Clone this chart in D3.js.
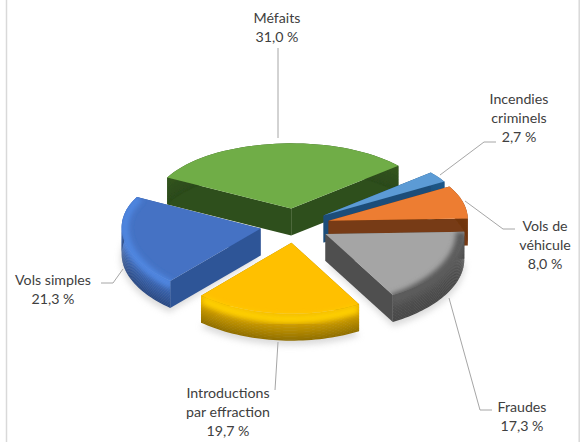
<!DOCTYPE html>
<html><head><meta charset="utf-8">
<script src="https://cdn.jsdelivr.net/npm/d3@7/dist/d3.min.js"></script>
<style>html,body{margin:0;background:#fff}svg{display:block}text{font-family:Lato,"Open Sans",sans-serif;font-size:14.2px;fill:#404040}</style>
</head><body><svg id="c" width="580" height="442"></svg>
<script>
const categories=["Méfaits","Incendies criminels","Vols de véhicule","Fraudes","Introductions par effraction","Vols simples"];
const values=[31.0,2.7,8.0,17.3,19.7,21.3];
const valueLabels=["31,0 %","2,7 %","8,0 %","17,3 %","19,7 %","21,3 %"];
const labelLines=[["Méfaits"],["Incendies","criminels"],["Vols de","véhicule"],["Fraudes"],["Introductions","par effraction"],["Vols simples"]];
const topColors=["#70ad47","#5b9bd5","#ed7d31","#a5a5a5","#ffc000","#4472c4"];
const rimColors=["#70ad47","#5b9bd5","#ed7d31","#5c5c5c","#ffd000","#4f86e0"];
const wallStops=[["#33561f","#2c4a1a"],["#1f5a8c","#1f4e79"],["#7c3c12","#6e3512"],["#555555","#484848"],["#f2b800","#8c6c00"],["#4474c8","#2a4880"]];
const cutColors=["#2f4f1c","#1f4e79","#773a12","#4f4f4f","#a07c00","#2f5597"];
const drawOrder=[0,1,2,5,3,4];

const cx=295,cy=225.5,R=139,squash=0.49,squashGrow=0.0001,explode=35,depth=27,persp=-0.0001,startDeg=-62;
const svg=d3.select("#c");
const defs=svg.append("defs");
const addBlur=(id,sd)=>defs.append("filter").attr("id",id).attr("x","-25%").attr("y","-25%").attr("width","150%").attr("height","150%").append("feGaussianBlur").attr("stdDeviation",sd);
addBlur("soft",0.7);addBlur("sh",3);addBlur("bev",2.4);

const pie=d3.pie().sort(null).value(d=>d).startAngle(startDeg*Math.PI/180).endAngle((startDeg+360)*Math.PI/180);
const arcs=pie(values);
const line=d3.line();
function project(px,py,z){const k=1+persp*py;return [cx+px*k,cy+py*(squash+squashGrow*py)+z];}
function geom(a){
  const mid=(a.startAngle+a.endAngle)/2;
  const ox=explode*Math.sin(mid),oy=-explode*Math.cos(mid);
  const P=(r,t,z)=>project(ox+r*Math.sin(t),oy-r*Math.cos(t),z);
  const ts=d3.range(0,41).map(i=>a.startAngle+(a.endAngle-a.startAngle)*i/40);
  return {P,ts,a};
}
svg.append("path").attr("d",line([[6.5,0],[6.5,442]])).attr("stroke","#d9d9d9").attr("stroke-width",1.5).attr("fill","none");
svg.append("path").attr("d",line([[579.2,0],[579.2,442]])).attr("stroke","#d9d9d9").attr("stroke-width",1.5).attr("fill","none");
const shadow=svg.append("g").attr("filter","url(#sh)").attr("fill","#bdbdbd").attr("opacity",0.55);
arcs.forEach((a,i)=>{
  if(i<3)return;
  const {P,ts}=geom(a);
  shadow.append("path").attr("d",line([P(0,0,depth+2),...ts.map(t=>P(R+1,t,depth+4))])+"Z");
});
const g=svg.append("g").attr("filter","url(#soft)");
drawOrder.forEach(i=>{
  const {P,ts,a}=geom(arcs[i]);
  const sl=g.append("g");
  [a.startAngle,a.endAngle].forEach(t=>{
    sl.append("path").attr("d",line([P(0,t,0),P(R,t,0),P(R,t,depth),P(0,t,depth)])+"Z").attr("fill",cutColors[i]);
  });
  const shade=d3.interpolateRgb(wallStops[i][0],wallStops[i][1]);
  d3.range(0,depth,1.5).forEach(z=>{
    const u=ts.map(t=>P(R,t,z)),v=ts.map(t=>P(R,t,Math.min(z+2,depth))).reverse();
    sl.append("path").attr("d",line([...u,...v])+"Z").attr("fill",shade(z/depth));
  });
  const top=ts.map(t=>P(R,t,0));
  const face=line([P(0,0,0),...top])+"Z";
  sl.append("path").attr("d",face).attr("fill",topColors[i]);
  const frontAngles=ts.filter(t=>-Math.cos(t)>-0.5&&t>Math.PI*0.5-0.2);
  if(i>=3&&frontAngles.length>1){
    const cid="cl"+i;
    const cp=defs.append("clipPath").attr("id",cid);
    cp.append("path").attr("d",face);
    cp.append("path").attr("d",line([...top,...ts.map(t=>P(R,t,depth)).reverse()])+"Z");
    sl.append("g").attr("clip-path",`url(#${cid})`).append("path")
      .attr("d",line(frontAngles.map(t=>P(R-3,t,Math.max(0,-Math.cos(t))*7))))
      .attr("fill","none").attr("stroke",rimColors[i]).attr("stroke-width",i===3?11:8).attr("filter","url(#bev)");
  }
});
const leaders=[[[278,48],[278,138]],[[496,142],[484,142],[440,175]],[[465,201],[503,229],[515,229]],[[449,298],[480,410],[492,410]],[[278,342],[275,390]],[[101,283],[113,283],[123,269]]];
const labelPos=[[277,23],[519,104],[545,231],[522,412],[228,398],[53,285]];
const lg=svg.append("g");
leaders.forEach(p=>lg.append("path").attr("d",line(p)).attr("fill","none").attr("stroke","#a6a6a6").attr("stroke-width",1));
categories.forEach((c,i)=>{
  const t=lg.append("text").attr("text-anchor","middle");
  [...labelLines[i],valueLabels[i]].forEach((l,j)=>t.append("tspan").attr("x",labelPos[i][0]).attr("y",labelPos[i][1]+j*19).text(l));
});
</script></body></html>
